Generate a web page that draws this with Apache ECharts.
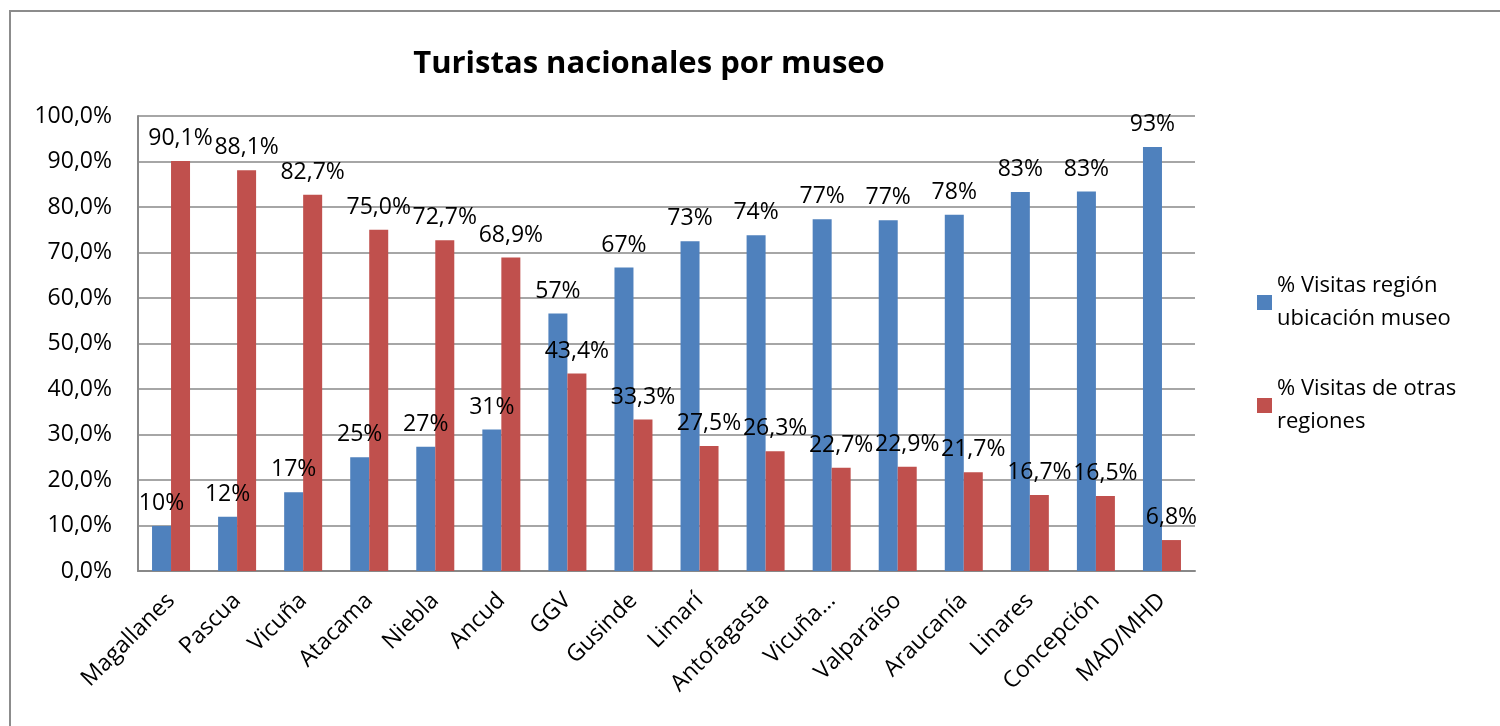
<!DOCTYPE html>
<html>
<head>
<meta charset="utf-8">
<script src="https://cdn.jsdelivr.net/npm/echarts@6/dist/echarts.min.js"></script>
<style>
  html, body { margin: 0; padding: 0; background: #fff; }
  #main { width: 1500px; height: 726px; }
</style>
</head>
<body>
<div id="main"></div>
<script>
// datos del grafico
var museos = ['Magallanes', 'Pascua', 'Vicuña', 'Atacama', 'Niebla', 'Ancud', 'GGV', 'Gusinde', 'Limarí',
    'Antofagasta', 'Vicuña…', 'Valparaíso', 'Araucanía', 'Linares', 'Concepción', 'MAD/MHD'];
var visitasRegion = [9.9, 11.9, 17.3, 25.0, 27.3, 31.1, 56.6, 66.7, 72.5, 73.8, 77.3, 77.1, 78.3, 83.3, 83.4, 93.2];
var visitasOtras = [90.1, 88.1, 82.7, 75.0, 72.7, 68.9, 43.4, 33.3, 27.5, 26.3, 22.7, 22.9, 21.7, 16.7, 16.5, 6.8];
var nombreRegion = '% Visitas región\nubicación museo';
var nombreOtras = '% Visitas de otras\nregiones';

var fuente = '"Open Sans", sans-serif';

function pct1(v) {
    return v.toFixed(1).replace('.', ',') + '%';
}

var chart = echarts.init(document.getElementById('main'));
var option = {
    animation: false,
    textStyle: { fontFamily: fuente },
    graphic: [{
        type: 'rect',
        shape: { x: 10, y: 11, width: 1600, height: 800 },
        style: { fill: 'none', stroke: '#8c8c8c', lineWidth: 2 },
        silent: true
    }],
    title: {
        text: 'Turistas nacionales por museo',
        left: 644,
        top: 44,
        textAlign: 'center',
        textStyle: { fontFamily: fuente, fontSize: 31, fontWeight: 'bold', color: '#000' }
    },
    legend: {
        orient: 'vertical',
        left: 1252,
        top: 248,
        itemWidth: 15,
        itemHeight: 15,
        itemGap: 4,
        icon: 'rect',
        data: [nombreRegion, nombreOtras],
        textStyle: { fontFamily: fuente, fontSize: 22, color: '#000', lineHeight: 33, padding: [33, 0, 0, 0] }
    },
    grid: { left: 138, right: 305, top: 116, bottom: 155 },
    xAxis: {
        type: 'category',
        data: museos,
        axisLine: { lineStyle: { color: '#888', width: 2 } },
        axisTick: { show: false },
        axisLabel: { rotate: 45, margin: 26, fontFamily: fuente, fontSize: 23, color: '#000' }
    },
    yAxis: {
        type: 'value',
        min: 0,
        max: 100,
        interval: 10,
        axisLine: { show: true, lineStyle: { color: '#888', width: 2 } },
        axisTick: { show: false },
        splitLine: { lineStyle: { color: '#888', width: 1.5 } },
        axisLabel: {
            margin: 26,
            fontFamily: fuente,
            fontSize: 23,
            color: '#000',
            formatter: function (v) { return pct1(v); }
        }
    },
    series: [
        {
            name: nombreRegion,
            type: 'bar',
            data: visitasRegion,
            barWidth: 19,
            barGap: '0%',
            itemStyle: { color: '#4F81BD' },
            label: {
                show: true,
                position: 'top',
                distance: 11,
                fontFamily: fuente,
                fontSize: 23,
                color: '#000',
                formatter: function (p) { return Math.round(p.value) + '%'; }
            }
        },
        {
            name: nombreOtras,
            type: 'bar',
            data: visitasOtras,
            barWidth: 19,
            itemStyle: { color: '#C0504D' },
            label: {
                show: true,
                position: 'top',
                distance: 11,
                fontFamily: fuente,
                fontSize: 23,
                color: '#000',
                formatter: function (p) { return pct1(p.value); }
            }
        }
    ]
};
chart.setOption(option);
</script>
</body>
</html>
